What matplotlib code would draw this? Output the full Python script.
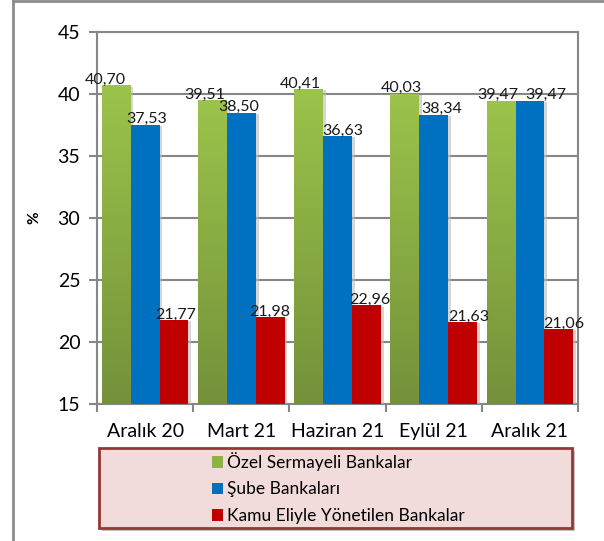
import numpy as np
import matplotlib
matplotlib.use('Agg')
import matplotlib.pyplot as plt
import matplotlib.patheffects as pe
from matplotlib.colors import LinearSegmentedColormap
from matplotlib.patches import Rectangle, Patch
from matplotlib.lines import Line2D

plt.rcParams['font.family'] = ['Lato', 'DejaVu Sans']

categories = ['Aralık 20', 'Mart 21', 'Haziran 21', 'Eylül 21', 'Aralık 21']
series_names = ['Özel Sermayeli Bankalar', 'Şube Bankaları', 'Kamu Eliyle Yönetilen Bankalar']
ozel = [40.70, 39.51, 40.41, 40.03, 39.47]
sube = [37.53, 38.50, 36.63, 38.34, 39.47]
kamu = [21.77, 21.98, 22.96, 21.63, 21.06]

colors = ['#8DB443', '#0070C0', '#C00000']
# label shifts in px, as placed in the original
label_dx = [[-11, -8, -8, -3, -3],
            [2, -3, 5, 8, 16],
            [2, 0, 3, 6, 5]]

fig = plt.figure(figsize=(6.04, 5.41), dpi=100)
ax = fig.add_axes([97 / 604, (541 - 404) / 541, 481 / 604, 372 / 541])

x = np.arange(len(categories))
w = 0.3
green_cmap = LinearSegmentedColormap.from_list('g', ['#74913A', '#9CC34B'])
shadow = [pe.SimplePatchShadow(offset=(2, -1), shadow_rgbFace='#BBBBBB', alpha=0.6), pe.Normal()]

for j, vals in enumerate([ozel, sube, kamu]):
    bars = ax.bar(x + (j - 1) * w, vals, width=w, bottom=0, color=colors[j], zorder=3,
                  path_effects=shadow)
    if j == 0:
        grad = np.linspace(0, 1, 256).reshape(-1, 1)
        for b in bars:
            x0 = b.get_x()
            im = ax.imshow(grad, cmap=green_cmap, origin='lower', aspect='auto',
                           extent=[x0, x0 + b.get_width(), 15, b.get_height()], zorder=4)
            im.set_clip_path(b)
    for k, (b, v) in enumerate(zip(bars, vals)):
        ax.annotate(f'{v:.2f}'.replace('.', ','), (b.get_x() + b.get_width() / 2, v),
                    xytext=(label_dx[j][k] * 0.72, 1), textcoords='offset points',
                    ha='center', va='baseline', fontsize=11.5, color='#1a1a1a', zorder=6)

ax.set_xlim(-0.5, len(categories) - 0.5)
ax.set_ylim(15, 45)
ax.set_yticks(range(15, 50, 5))
ax.set_xticks(x)
ax.set_xticklabels(categories, fontsize=14)
ax.set_xticks(np.arange(-0.5, len(categories), 1), minor=True)
ax.tick_params(axis='x', which='major', length=0, pad=14)
ax.tick_params(axis='x', which='minor', length=6, width=1.5, color='#868686', direction='out')
ax.tick_params(axis='y', length=6, width=1.5, color='#868686', labelsize=14, pad=6)
ax.yaxis.grid(True, color='#868686', linewidth=1.5, zorder=0)
ax.set_axisbelow(True)
for s in ax.spines.values():
    s.set_color('#868686')
    s.set_linewidth(1.5)
ax.set_ylabel('%', fontsize=11, fontweight='bold', labelpad=12)

# outer frame
fig.add_artist(Line2D([13 / 604, 13 / 604], [0, 1 - 1 / 541], transform=fig.transFigure,
                      color='#8C8C8C', lw=2))
fig.add_artist(Line2D([13 / 604, 1], [1 - 1 / 541, 1 - 1 / 541], transform=fig.transFigure,
                      color='#8C8C8C', lw=2))

# legend box
bx, by, bw, bh = 99 / 604, (541 - 528) / 541, 473 / 604, 80 / 541
box = Rectangle((bx, by), bw, bh, transform=fig.transFigure, facecolor='#F2DCDB',
                edgecolor='#953735', lw=2,
                path_effects=[pe.SimplePatchShadow(offset=(2, -2), shadow_rgbFace='#999999', alpha=0.6),
                              pe.Normal()])
fig.add_artist(box)
handles = [Patch(facecolor=c, edgecolor='none') for c in colors]
fig.legend(handles, series_names, loc='center', bbox_to_anchor=(bx + bw / 2 + 3 / 604, by + bh / 2),
           bbox_transform=fig.transFigure, frameon=False, fontsize=12.5,
           handlelength=0.65, handleheight=0.65, handletextpad=0.25, labelspacing=0.6)

fig.savefig('out.png', dpi=100)
